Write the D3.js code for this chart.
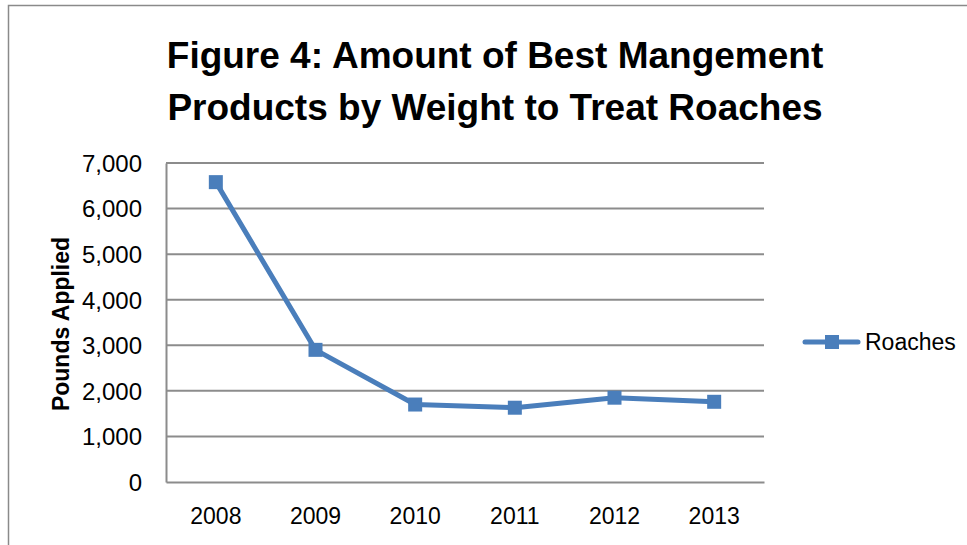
<html>
<head>
<script src="https://cdnjs.cloudflare.com/ajax/libs/d3/7.8.5/d3.min.js"></script>
<style>
  body { margin: 0; background: #fff; }
  text { font-family: "Liberation Sans", Arial, sans-serif; fill: #000; }
</style>
</head>
<body>
<svg width="967" height="545"></svg>
<script>
  // chart data
  const years = ["2008", "2009", "2010", "2011", "2012", "2013"];
  const roaches = [6580, 2900, 1700, 1630, 1850, 1760];
  const yTicks = [0, 1000, 2000, 3000, 4000, 5000, 6000, 7000];
  const titleLines = ["Figure 4: Amount of Best Mangement", "Products by Weight to Treat Roaches"];

  const svg = d3.select("svg");
  const blue = "#4a7ebb";
  const grid = "#8c8c8c";

  // outer chart frame
  svg.append("rect")
    .attr("x", 8.5).attr("y", 5.5)
    .attr("width", 1000).attr("height", 600)
    .attr("fill", "none").attr("stroke", "#8a8a8a").attr("stroke-width", 1.5);

  const plotL = 166, plotR = 764, plotT = 163, plotB = 482;

  const x = d3.scaleBand().domain(years).range([plotL, plotR]);
  const y = d3.scaleLinear().domain([0, 7000]).range([plotB, plotT]);

  // title
  svg.append("text")
    .attr("x", 495).attr("y", 68)
    .attr("text-anchor", "middle")
    .style("font-weight", "bold").style("font-size", "37px")
    .selectAll("tspan").data(titleLines).enter()
    .append("tspan")
    .attr("x", 495)
    .attr("dy", (d, i) => i ? 52 : 0)
    .text(d => d);

  // gridlines
  svg.append("g").selectAll("line").data(yTicks.filter(d => d > 0)).enter()
    .append("line")
    .attr("x1", plotL).attr("x2", plotR)
    .attr("y1", d => y(d)).attr("y2", d => y(d))
    .attr("stroke", grid).attr("stroke-width", 2);

  // axes
  const yAxis = d3.axisLeft(y).tickValues(yTicks).tickSize(0).tickPadding(24)
    .tickFormat(d3.format(","));
  const gy = svg.append("g").attr("transform", `translate(${plotL},0)`).call(yAxis);
  gy.select(".domain").attr("stroke", grid).attr("stroke-width", 2);
  gy.selectAll("text").style("font-size", "24px").attr("dy", "0.35em");

  const xAxis = d3.axisBottom(x).tickSize(0).tickPadding(26);
  const gx = svg.append("g").attr("transform", `translate(0,${plotB})`).call(xAxis);
  gx.select(".domain").attr("stroke", grid).attr("stroke-width", 2);
  gx.selectAll("text").style("font-size", "23px");

  // y axis title
  svg.append("text")
    .attr("transform", "translate(69,324) rotate(-90)")
    .attr("text-anchor", "middle")
    .style("font-weight", "bold").style("font-size", "23px")
    .text("Pounds Applied");

  // series
  const cx = d => x(d) + x.bandwidth() / 2;
  const line = d3.line().x((d, i) => cx(years[i])).y(d => y(d));
  svg.append("path")
    .datum(roaches)
    .attr("d", line)
    .attr("fill", "none").attr("stroke", blue).attr("stroke-width", 5)
    .attr("stroke-linejoin", "round").attr("stroke-linecap", "round");

  svg.append("g").selectAll("rect").data(roaches).enter()
    .append("rect")
    .attr("x", (d, i) => cx(years[i]) - 7)
    .attr("y", d => y(d) - 7)
    .attr("width", 14).attr("height", 14)
    .attr("fill", blue);

  // legend
  const lg = svg.append("g").attr("transform", "translate(805,342)");
  lg.append("line").attr("x1", 0).attr("x2", 53)
    .attr("stroke", blue).attr("stroke-width", 5).attr("stroke-linecap", "round");
  lg.append("rect").attr("x", 20).attr("y", -7).attr("width", 14).attr("height", 14).attr("fill", blue);
  lg.append("text").attr("x", 60).attr("y", 8).style("font-size", "23px").text("Roaches");
</script>
</body>
</html>
